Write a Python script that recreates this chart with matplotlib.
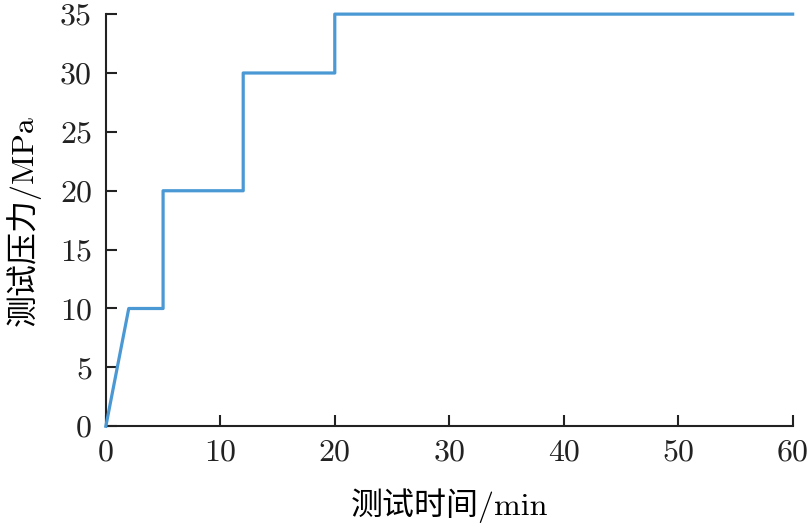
import matplotlib
matplotlib.use("Agg")
import matplotlib.pyplot as plt

time_min = [0, 2, 5, 5, 12, 12, 20, 20, 60]
pressure_mpa = [0, 10, 10, 20, 20, 30, 30, 35, 35]
xticks = [0, 10, 20, 30, 40, 50, 60]
yticks = [0, 5, 10, 15, 20, 25, 30, 35]

plt.rcParams['font.family'] = ['cmr10', 'Noto Sans CJK SC', 'DejaVu Serif']
plt.rcParams['axes.formatter.use_mathtext'] = True

fig = plt.figure(figsize=(8.08, 5.23), dpi=100)
ax = fig.add_axes([0.131, 0.185, 0.850, 0.788])
ax.plot(time_min, pressure_mpa, color='#4a98d4', lw=2.3, clip_on=False, zorder=3)
ax.set_xlim(0, 60)
ax.set_ylim(0, 35)
ax.set_xticks(xticks)
ax.set_yticks(yticks)
ax.set_xticklabels([str(v) for v in xticks])
ax.set_yticklabels([str(v) for v in yticks])
for s in ['top', 'right']:
    ax.spines[s].set_visible(False)
for s in ['left', 'bottom']:
    ax.spines[s].set_linewidth(1.5)
    ax.spines[s].set_color('#222222')
ax.tick_params(direction='in', length=8, width=1.5, labelsize=23, colors='#222222')
ax.tick_params(axis='x', pad=9)
ax.tick_params(axis='y', pad=10)
ax.set_xlabel('测试时间/min', fontsize=23, labelpad=16)
ax.set_ylabel('测试压力/MPa', fontsize=23, labelpad=14)
fig.savefig('out.png', dpi=100)
